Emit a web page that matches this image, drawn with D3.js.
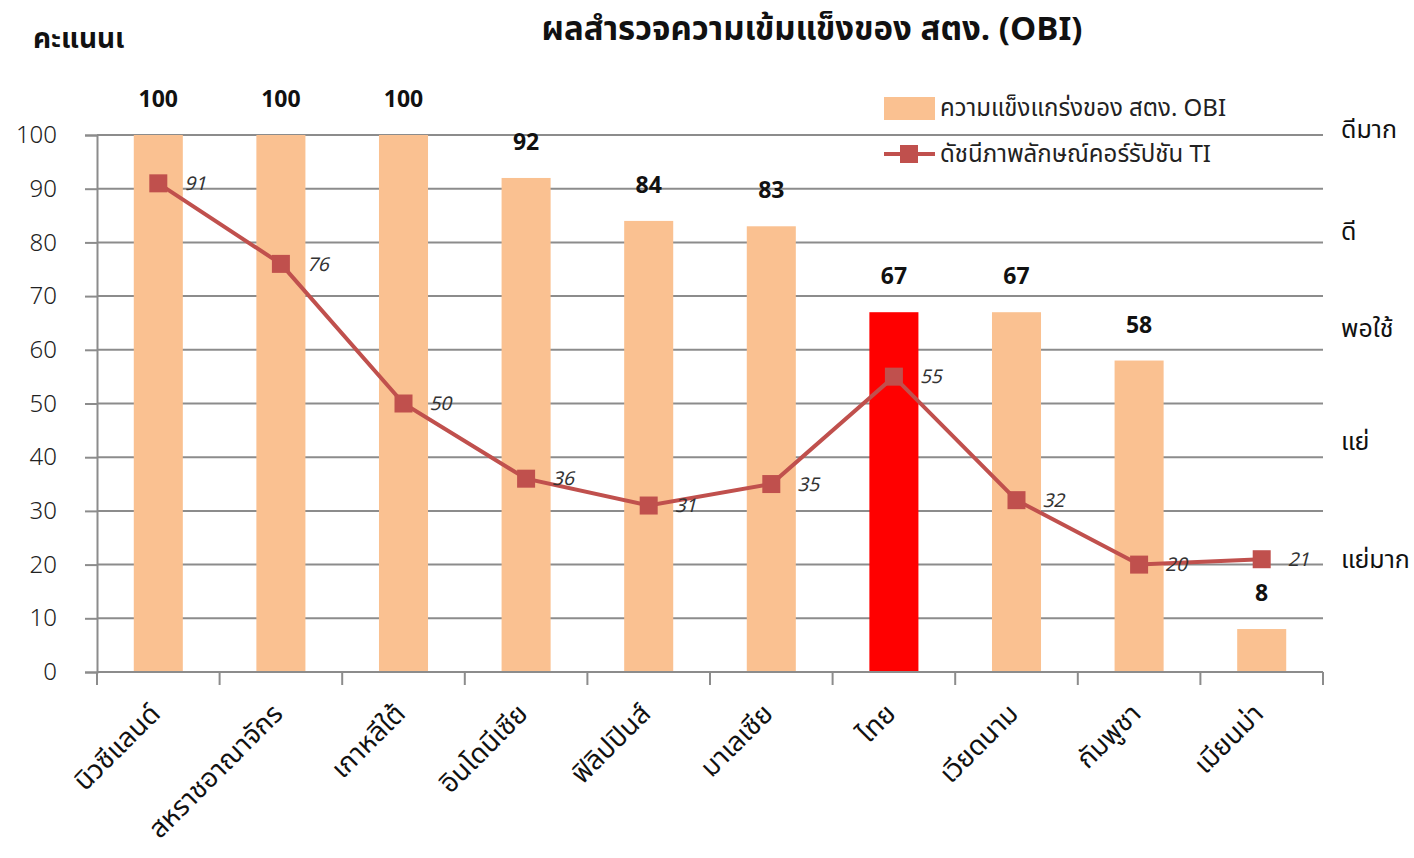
<!DOCTYPE html>
<html>
<head>
<meta charset="utf-8">
<script src="https://cdn.jsdelivr.net/npm/d3@7"></script>
<style>
  body { margin: 0; background: #fff; }
  text { font-family: "Noto Sans Thai", "Noto Sans", "DejaVu Sans", sans-serif; }
</style>
</head>
<body>
<script>
// data
var countries = ["นิวซีแลนด์", "สหราชอาณาจักร", "เกาหลีใต้", "อินโดนีเซีย", "ฟิลิปปินส์",
                 "มาเลเซีย", "ไทย", "เวียดนาม", "กัมพูชา", "เมียนม่า"];
var obi = [100, 100, 100, 92, 84, 83, 67, 67, 58, 8];
var ti = [91, 76, 50, 36, 31, 35, 55, 32, 20, 21];
var yTicks = [0, 10, 20, 30, 40, 50, 60, 70, 80, 90, 100];
var levels = ["ดีมาก", "ดี", "พอใช้", "แย่", "แย่มาก"];
var levelPos = [101, 82, 64, 43, 21];
var highlight = "ไทย";

var W = 1414, H = 858;
var margin = {top: 135, right: 91, bottom: 186, left: 97},
    width = W - margin.left - margin.right,
    height = H - margin.top - margin.bottom;

var svg = d3.select("body").append("svg")
  .attr("width", W).attr("height", H);

var x = d3.scaleBand().domain(countries).range([0, width]).paddingInner(0.6).paddingOuter(0.3);
var xb = d3.scaleBand().domain(countries).range([0, width]);
var y = d3.scaleLinear().domain([0, 100]).range([height, 0]);

var g = svg.append("g").attr("transform", "translate(" + margin.left + "," + margin.top + ")");

// gridlines
g.selectAll(".grid").data(yTicks.slice(1)).enter().append("line")
  .attr("x1", 0).attr("x2", width)
  .attr("y1", function(d) { return y(d); }).attr("y2", function(d) { return y(d); })
  .attr("stroke", "#8c8c8c").attr("stroke-width", 2);

// bars
g.selectAll(".bar").data(obi).enter().append("rect")
  .attr("x", function(d, i) { return x(countries[i]); })
  .attr("width", x.bandwidth())
  .attr("y", function(d) { return y(d); })
  .attr("height", function(d) { return height - y(d); })
  .attr("fill", function(d, i) { return countries[i] == highlight ? "#ff0000" : "#fac191"; });

// bar labels
g.selectAll(".blab").data(obi).enter().append("text")
  .attr("x", function(d, i) { return xb(countries[i]) + xb.bandwidth() / 2; })
  .attr("y", function(d) { return y(d) - 28; })
  .attr("text-anchor", "middle")
  .attr("font-size", 23).attr("font-weight", "bold").attr("fill", "#111")
  .text(function(d) { return d; });

// y axis
var yAxis = d3.axisLeft(y).tickValues(yTicks).tickSize(12).tickPadding(28);
var ya = g.append("g").call(yAxis);
ya.select(".domain").attr("stroke", "#8c8c8c").attr("stroke-width", 2);
ya.selectAll(".tick line").attr("stroke", "#8c8c8c").attr("stroke-width", 2);
ya.selectAll(".tick text").attr("font-size", 24).attr("fill", "#222")
  .attr("font-family", "'Liberation Sans', sans-serif").attr("font-weight", 300);

// x axis
var xa = g.append("g").attr("transform", "translate(0," + height + ")");
xa.append("line").attr("x1", 0).attr("x2", width).attr("stroke", "#8c8c8c").attr("stroke-width", 2);
xa.selectAll(".xt").data(d3.range(countries.length + 1)).enter().append("line")
  .attr("x1", function(i) { return i * xb.step(); }).attr("x2", function(i) { return i * xb.step(); })
  .attr("y1", 0).attr("y2", 13).attr("stroke", "#8c8c8c").attr("stroke-width", 2);
xa.selectAll(".xl").data(countries).enter().append("text")
  .attr("transform", function(d) {
    return "translate(" + (xb(d) + xb.bandwidth() / 2 - 10) + ",30) rotate(-45)";
  })
  .attr("text-anchor", "end").attr("dy", "0.7em")
  .attr("font-size", 27).attr("fill", "#111")
  .text(function(d) { return d; });

// line
var line = d3.line()
  .x(function(d, i) { return xb(countries[i]) + xb.bandwidth() / 2; })
  .y(function(d) { return y(d); });
g.append("path").datum(ti).attr("d", line)
  .attr("fill", "none").attr("stroke", "#c0504d").attr("stroke-width", 4);
g.selectAll(".mk").data(ti).enter().append("rect")
  .attr("x", function(d, i) { return xb(countries[i]) + xb.bandwidth() / 2 - 9; })
  .attr("y", function(d) { return y(d) - 9; })
  .attr("width", 18).attr("height", 18)
  .attr("fill", "#c0504d");
g.selectAll(".tlab").data(ti).enter().append("text")
  .attr("x", function(d, i) { return xb(countries[i]) + xb.bandwidth() / 2 + 26; })
  .attr("y", function(d) { return y(d); })
  .attr("dy", "0.35em")
  .attr("font-size", 19).attr("font-style", "italic").attr("fill", "#333")
  .text(function(d) { return d; });

// right side levels
g.selectAll(".lv").data(levels).enter().append("text")
  .attr("x", width + 18)
  .attr("y", function(d, i) { return y(levelPos[i]); })
  .attr("dy", "0.35em")
  .attr("font-size", 25).attr("fill", "#111")
  .text(function(d) { return d; });

// titles
svg.append("text").attr("x", 812).attr("y", 40).attr("text-anchor", "middle")
  .attr("font-size", 33).attr("font-weight", "bold").attr("fill", "#111")
  .text("ผลสำรวจความเข้มแข็งของ สตง. (OBI)");
svg.append("text").attr("x", 33).attr("y", 48)
  .attr("font-size", 28).attr("font-weight", "bold").attr("fill", "#111")
  .text("คะแนนเ");

// legend
var lg = svg.append("g").attr("transform", "translate(884,97)");
lg.append("rect").attr("width", 51).attr("height", 23).attr("fill", "#fac191");
lg.append("text").attr("x", 56).attr("y", 11).attr("dy", "0.35em")
  .attr("font-size", 24).attr("fill", "#222").text("ความแข็งแกร่งของ สตง. OBI");
lg.append("line").attr("x1", 0).attr("x2", 51).attr("y1", 57).attr("y2", 57)
  .attr("stroke", "#c0504d").attr("stroke-width", 4);
lg.append("rect").attr("x", 16).attr("y", 48).attr("width", 18).attr("height", 18).attr("fill", "#c0504d");
lg.append("text").attr("x", 56).attr("y", 57).attr("dy", "0.35em")
  .attr("font-size", 24).attr("fill", "#222").text("ดัชนีภาพลักษณ์คอร์รัปชัน TI");
</script>
</body>
</html>
